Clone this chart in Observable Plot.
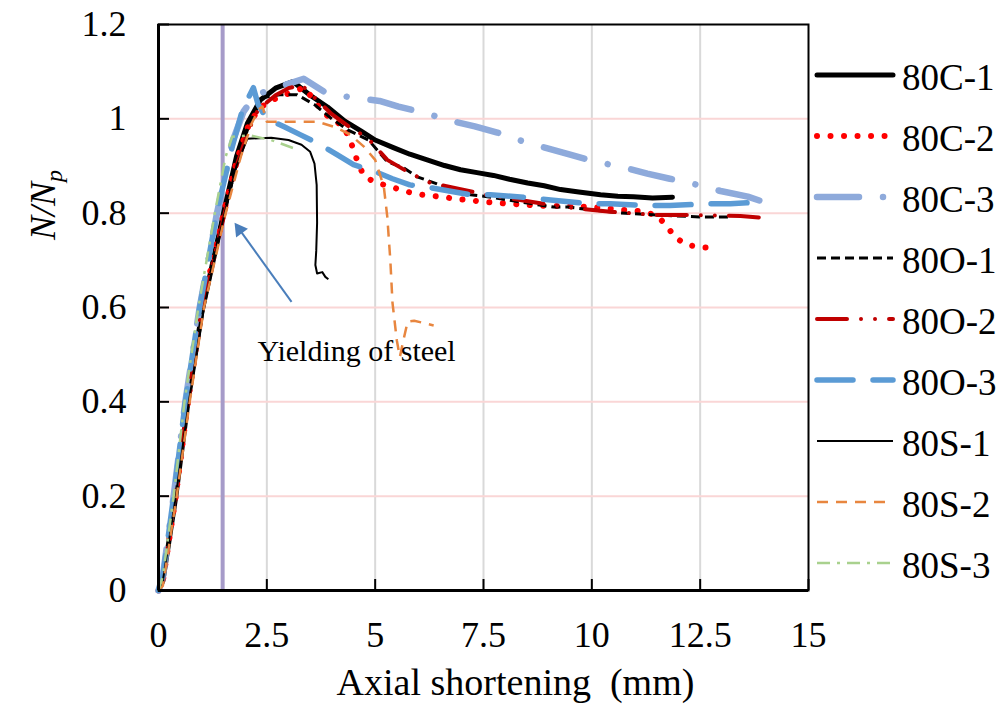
<!DOCTYPE html>
<html><head><meta charset="utf-8">
<script src="https://cdn.jsdelivr.net/npm/d3@7"></script>
<script src="https://cdn.jsdelivr.net/npm/@observablehq/plot@0.6"></script>
<style>body{margin:0;background:#fff}</style>
</head><body><div id="chart"></div>
<script>
// ---- data (x: axial shortening mm, y: N/Np) ----
const seriesNames = ["80C-1","80C-2","80C-3","80O-1","80O-2","80O-3","80S-1","80S-2","80S-3"];
const s80C1 = [[0,0],[0.1,0.02],[0.4,0.2],[0.68,0.4],[1.0,0.59],[1.5,0.8],[1.8,0.92],[2.05,0.99],[2.35,1.04],[2.7,1.065],[3.1,1.079],[3.5,1.05],[3.9,1.025],[4.3,0.995],[4.66,0.975],[5.0,0.955],[5.42,0.939],[5.8,0.925],[6.2,0.913],[6.6,0.901],[6.97,0.892],[7.35,0.886],[7.73,0.88],[8.1,0.872],[8.52,0.864],[8.9,0.858],[9.28,0.85],[9.7,0.845],[10.2,0.839],[10.6,0.836],[10.96,0.835],[11.4,0.832],[11.86,0.834]];
const s80C2 = [[0,0],[0.1,0.02],[0.4,0.2],[0.68,0.4],[1.0,0.6],[1.5,0.8],[1.8,0.91],[2.05,0.98],[2.3,1.02],[2.55,1.037],[2.9,1.05],[3.35,1.066],[3.55,1.045],[3.74,1.02],[3.97,1.0],[4.25,0.986],[4.4,0.96],[4.5,0.935],[4.6,0.907],[4.74,0.879],[5.0,0.865],[5.3,0.858],[5.63,0.848],[5.93,0.841],[6.23,0.837],[6.55,0.835],[6.85,0.83],[7.15,0.828],[7.48,0.824],[7.78,0.822],[8.12,0.82],[8.42,0.818],[8.75,0.816],[9.5,0.815],[10.0,0.813],[10.6,0.808],[11.24,0.803],[11.54,0.792],[11.74,0.771],[11.93,0.748],[12.19,0.733],[12.49,0.728],[12.8,0.726]];
const s80C3 = [[0,0],[0.1,0.03],[0.35,0.2],[0.62,0.4],[0.95,0.6],[1.35,0.8],[1.7,0.95],[1.96,1.015],[2.24,1.051],[2.8,1.068],[3.35,1.085],[3.85,1.056],[4.45,1.045],[5.1,1.038],[5.54,1.026],[6.12,1.013],[6.74,0.996],[7.3,0.984],[7.82,0.971],[8.42,0.952],[9.0,0.937],[9.5,0.924],[10.08,0.909],[10.7,0.898],[11.28,0.884],[11.8,0.873],[12.35,0.862],[12.97,0.847],[13.6,0.835],[14.29,0.814]];
const s80O1 = [[0,0],[0.1,0.02],[0.4,0.2],[0.68,0.4],[1.02,0.6],[1.52,0.8],[1.82,0.91],[2.1,0.99],[2.4,1.045],[2.8,1.051],[3.2,1.051],[3.6,1.03],[4.0,1.0],[4.4,0.975],[4.85,0.955],[5.28,0.909],[5.66,0.896],[5.97,0.877],[6.28,0.867],[6.67,0.854],[7.2,0.839],[7.59,0.835],[8.05,0.828],[8.75,0.818],[9.12,0.813],[9.44,0.813],[10.0,0.807],[10.6,0.801],[11.5,0.796],[12.5,0.792],[13.2,0.792]];
const s80O2 = [[0,0],[0.1,0.02],[0.4,0.21],[0.68,0.41],[1.0,0.6],[1.5,0.79],[1.8,0.9],[2.05,0.97],[2.3,1.02],[2.7,1.05],[3.0,1.065],[3.3,1.072],[3.6,1.045],[4.0,1.01],[4.45,0.98],[4.82,0.96],[5.28,0.913],[5.8,0.885],[6.28,0.864],[6.97,0.851],[7.5,0.84],[8.2,0.83],[9.0,0.818],[9.74,0.809],[10.43,0.803],[11.5,0.796],[12.2,0.796],[13.43,0.794],[14.0,0.79]];
const s80O3 = [[0,0],[0.1,0.03],[0.35,0.2],[0.62,0.4],[0.95,0.6],[1.36,0.807],[1.7,0.94],[1.94,1.02],[2.19,1.066],[2.3,1.03],[2.5,1.0],[2.9,0.983],[3.28,0.966],[3.74,0.945],[4.1,0.925],[4.5,0.903],[5.0,0.888],[5.4,0.873],[5.8,0.86],[6.28,0.854],[7.2,0.839],[7.66,0.839],[8.54,0.833],[9.05,0.828],[9.97,0.82],[10.43,0.82],[11.3,0.816],[11.8,0.816],[12.7,0.82],[13.2,0.82],[13.6,0.822]];
const s80S1 = [[0,0],[0.1,0.02],[0.4,0.2],[0.7,0.4],[1.05,0.6],[1.5,0.79],[1.8,0.9],[2.05,0.958],[2.6,0.96],[3.0,0.955],[3.3,0.945],[3.5,0.93],[3.6,0.905],[3.65,0.86],[3.66,0.78],[3.64,0.72],[3.62,0.69],[3.66,0.672],[3.78,0.675],[3.85,0.665],[3.92,0.66]];
const s80S2 = [[0,0],[0.1,0.01],[0.42,0.2],[0.72,0.4],[1.05,0.6],[1.55,0.8],[1.9,0.92],[2.15,0.99],[2.31,1.02],[2.4,1.026],[2.5,0.994],[3.0,0.994],[3.66,0.994],[4.12,0.981],[4.43,0.966],[4.74,0.941],[5.0,0.913],[5.2,0.856],[5.28,0.792],[5.35,0.7],[5.4,0.61],[5.5,0.53],[5.57,0.495],[5.65,0.53],[5.75,0.57],[5.9,0.572],[6.35,0.562]];
const s80S3 = [[0,0],[0.1,0.03],[0.35,0.2],[0.6,0.4],[0.92,0.6],[1.3,0.8],[1.55,0.92],[1.7,0.962],[2.1,0.965],[2.6,0.955],[3.2,0.935]];
const seriesData = [s80C1,s80C2,s80C3,s80O1,s80O2,s80O3,s80S1,s80S2,s80S3];

const xTicks = [0,2.5,5,7.5,10,12.5,15];
const yTicks = [0,0.2,0.4,0.6,0.8,1,1.2];
const yieldLine = [1.48];
const arrowTail = [3.07, 0.612];
const arrowHead = [1.87, 0.765];
const noteText = "Yielding of steel";
const notePos = [4.57, 0.506];
const xTitle = "Axial shortening  (mm)";

// ---- styles ----
const styles = [
  {stroke:"#000000", width:5,   dash:null,            cap:"round"},
  {stroke:"#ff0000", width:6,   dash:"0.01 13.5",     cap:"round"},
  {stroke:"#8eaadb", width:6.5, dash:"42 24 0.01 24", cap:"round"},
  {stroke:"#000000", width:3,   dash:"9 5",           cap:"butt"},
  {stroke:"#c00000", width:4,   dash:"30 14 0.01 14 0.01 14", cap:"round"},
  {stroke:"#5b9bd5", width:5.5, dash:"36 20",         cap:"round"},
  {stroke:"#000000", width:2,   dash:null,            cap:"butt"},
  {stroke:"#e8863f", width:2.5, dash:"11 8",          cap:"butt"},
  {stroke:"#a9d18e", width:2.5, dash:"13 7 3 7",      cap:"butt"}
];

const font = "'Liberation Serif', 'Times New Roman', serif";

const lineMarks = seriesData.map((d, i) => Plot.line(d, {
  x: p => p[0], y: p => p[1],
  stroke: styles[i].stroke, strokeWidth: styles[i].width,
  strokeDasharray: styles[i].dash, strokeLinecap: styles[i].cap, strokeLinejoin: "round"
}));

const chart = Plot.plot({
  width: 1007, height: 715,
  marginLeft: 158, marginRight: 199, marginTop: 24, marginBottom: 125,
  style: {fontFamily: font, background: "white", color: "black", overflow: "visible"},
  x: {domain: [0, 15]},
  y: {domain: [0, 1.2]},
  marks: [
    Plot.gridX(xTicks.slice(1, -1), {stroke: "#d9d9d9", strokeOpacity: 1, strokeWidth: 2}),
    Plot.gridY(yTicks.slice(1, -1), {stroke: "#fad6d6", strokeOpacity: 1, strokeWidth: 2}),
    Plot.ruleX(yieldLine, {stroke: "#a69bc9", strokeWidth: 4}),
    ...lineMarks,
    Plot.link([0], {x1: arrowTail[0], y1: arrowTail[1], x2: arrowHead[0], y2: arrowHead[1], stroke: "#4a7ebb", strokeWidth: 2}),
    Plot.dot([0], {x: arrowHead[0], y: arrowHead[1], symbol: "triangle2", r: 7, fill: "#4a7ebb", rotate: -36}),
    Plot.text([noteText], {x: notePos[0], y: notePos[1], text: d => d, fontSize: 30, fontFamily: font, fill: "black"}),
    Plot.frame({stroke: "black", strokeWidth: 2}),
    Plot.ruleX([0], {stroke: "black", strokeWidth: 3}),
    Plot.ruleY([0], {stroke: "black", strokeWidth: 3}),
    Plot.axisX({ticks: xTicks, tickSize: -11, tickPadding: 42, strokeWidth: 2, fontSize: 36, fontFamily: font, label: null, tickFormat: d => String(d)}),
    Plot.axisY({ticks: yTicks, tickSize: -11, tickPadding: 43, strokeWidth: 2, fontSize: 36, fontFamily: font, label: null, tickFormat: d => String(d)}),
    Plot.text([xTitle], {frameAnchor: "bottom", dx: 32, dy: 104, text: d => d, fontSize: 38, fontFamily: font, fill: "black"})
  ]
});
document.getElementById("chart").appendChild(chart);

// ---- y title with subscript ----
const svg = d3.select(chart);
const yt = svg.append("text")
  .attr("transform", "translate(55,205) rotate(-90)")
  .attr("text-anchor", "middle")
  .attr("font-family", font).attr("font-size", 36).attr("font-style", "italic").attr("fill", "black");
yt.append("tspan").text("N/N");
yt.append("tspan").attr("font-size", 24).attr("dy", 7).text("p");

// ---- legend ----
const lg = svg.append("g").attr("font-family", font).attr("font-size", 37).attr("fill", "black").attr("text-anchor", "start");
seriesNames.forEach((name, i) => {
  const y = 75 + 61 * i;
  lg.append("line").attr("x1", 817).attr("x2", 893).attr("y1", y).attr("y2", y)
    .attr("stroke", styles[i].stroke).attr("stroke-width", styles[i].width)
    .attr("stroke-dasharray", styles[i].dash).attr("stroke-linecap", styles[i].cap);
  lg.append("text").attr("x", 902).attr("y", y + 15).attr("text-anchor", "start").text(name);
});
</script>
</body></html>
